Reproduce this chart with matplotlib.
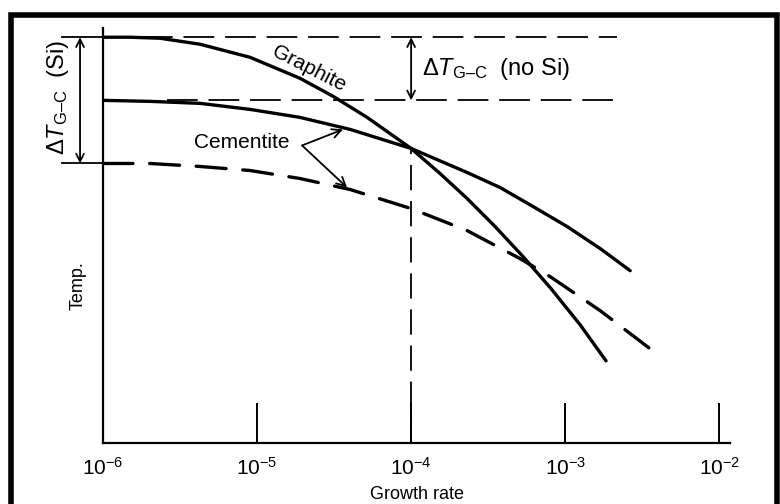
import numpy as np
import matplotlib
matplotlib.use('Agg')
import matplotlib.pyplot as plt
from matplotlib.patches import Rectangle

plt.rcParams['font.family'] = ['Liberation Sans', 'DejaVu Sans']
plt.rcParams['mathtext.fontset'] = 'custom'
plt.rcParams['mathtext.rm'] = 'Liberation Sans'
plt.rcParams['mathtext.it'] = 'Liberation Sans:italic'
plt.rcParams['mathtext.bf'] = 'Liberation Sans:bold'

# growth rate (log axis) vs temperature (arbitrary units)
graphite_rate = [1.0e-6, 1.5e-6, 2.35e-6, 4.27e-6, 9.0e-6, 1.9e-5, 3.12e-5, 5.18e-5,
                 1.0e-4, 1.54e-4, 2.31e-4, 3.51e-4, 5.33e-4, 8.0e-4, 1.25e-3, 1.84e-3]
graphite_temp = [405, 405, 404, 398, 385, 364, 346, 325,
                 294, 269, 244, 216, 186, 155, 118, 82]

cementite_rate = [1.0e-6, 2.02e-6, 4.27e-6, 9.0e-6, 1.9e-5, 4.02e-5, 1.0e-4,
                  2.31e-4, 3.78e-4, 6.19e-4, 1.03e-3, 1.69e-3, 2.64e-3]
cementite_temp = [342, 341, 339, 333, 325, 313, 294, 270, 255, 236, 216, 194, 172]

cem_si_rate = [1.0e-6, 2.02e-6, 4.27e-6, 9.0e-6, 1.9e-5, 4.02e-5, 1.0e-4,
               2.31e-4, 5.1e-4, 8.0e-4, 1.69e-3, 3.56e-3]
cem_si_temp = [279, 279, 276, 272, 264, 253, 234, 212, 184, 166, 132, 94]

ticks = [1e-6, 1e-5, 1e-4, 1e-3, 1e-2]
tick_labels = [r'$10^{-6}$', r'$10^{-5}$', r'$10^{-4}$', r'$10^{-3}$', r'$10^{-2}$']

t_graphite = 405   # graphite plateau
t_cem = 342        # cementite plateau
t_cem_si = 279     # cementite plateau with Si
x_cross = 1.0e-4

fig = plt.figure(figsize=(7.8, 5.04), dpi=100)
ax = fig.add_axes([0.132, 0.121, 0.804, 0.823])
ax.set_xscale('log')
ax.set_xlim(1e-6, 10 ** -1.93)
ax.set_ylim(0, 414)

lw = 2.4
ax.plot(graphite_rate, graphite_temp, color='black', lw=lw, solid_capstyle='round')
ax.plot(cementite_rate, cementite_temp, color='black', lw=lw, solid_capstyle='round')
ax.plot(cem_si_rate, cem_si_temp, color='black', lw=lw, ls=(0, (9, 5)), dash_capstyle='round')

# reference dashed levels
ax.plot([1.8e-6, 2.18e-3], [t_graphite, t_graphite], color='black', lw=1.3, ls=(0, (17, 6)))
ax.plot([2.6e-6, 2.18e-3], [t_cem, t_cem], color='black', lw=1.3, ls=(0, (17, 6)))
ax.plot([x_cross, x_cross], [0, 294], color='black', lw=1.3, ls=(0, (14, 6)))

# delta T (no Si)
ax.annotate('', xy=(x_cross, t_graphite), xytext=(x_cross, t_cem),
            arrowprops=dict(arrowstyle='<->', color='black', lw=1.3,
                            mutation_scale=14, shrinkA=0, shrinkB=0))
ax.text(1.17e-4, 373, r'$\Delta T_{\mathrm{G–C}}$  (no Si)', fontsize=17,
        va='center', ha='left')

# delta T (Si) on the left, outside the axes
ax.plot([5.4e-7, 1e-6], [t_graphite, t_graphite], color='black', lw=1.3, clip_on=False)
ax.plot([5.4e-7, 1e-6], [t_cem_si, t_cem_si], color='black', lw=1.3, clip_on=False)
ax.annotate('', xy=(7.1e-7, t_graphite), xytext=(7.1e-7, t_cem_si),
            arrowprops=dict(arrowstyle='<->', color='black', lw=1.3,
                            mutation_scale=14, shrinkA=0, shrinkB=0),
            annotation_clip=False)
ax.text(5.1e-7, 345, r'$\Delta T_{\mathrm{G–C}}$  (Si)', fontsize=17,
        rotation=90, va='center', ha='center', clip_on=False)

# curve labels
ax.text(2.18e-5, 374, 'Graphite', fontsize=15, rotation=-27, ha='center', va='center')
ax.text(7.9e-6, 300, 'Cementite', fontsize=15, ha='center', va='center')
ax.annotate('', xy=(3.61e-5, 313), xytext=(1.96e-5, 297),
            arrowprops=dict(arrowstyle='->', color='black', lw=1.3,
                            mutation_scale=16, shrinkA=0, shrinkB=0))
ax.annotate('', xy=(3.84e-5, 255), xytext=(1.96e-5, 297),
            arrowprops=dict(arrowstyle='->', color='black', lw=1.3,
                            mutation_scale=16, shrinkA=0, shrinkB=0))

ax.text(-0.04, 0.38, 'Temp.', transform=ax.transAxes, rotation=90,
        fontsize=13, ha='center', va='center')
ax.set_xlabel('Growth rate', fontsize=13, labelpad=5)

for s in ['top', 'right']:
    ax.spines[s].set_visible(False)
for s in ['left', 'bottom']:
    ax.spines[s].set_linewidth(1.6)
ax.set_yticks([])
ax.set_xticks(ticks)
ax.set_xticklabels(tick_labels, fontsize=15)
ax.minorticks_off()
ax.tick_params(axis='x', direction='in', length=29, width=1.4, pad=10)

# black picture frame
fig.add_artist(Rectangle((0.0135, -0.1), 0.9825, 1.071, transform=fig.transFigure,
                         fill=False, edgecolor='black', lw=4, clip_on=False))

fig.savefig('out.png', dpi=100)
